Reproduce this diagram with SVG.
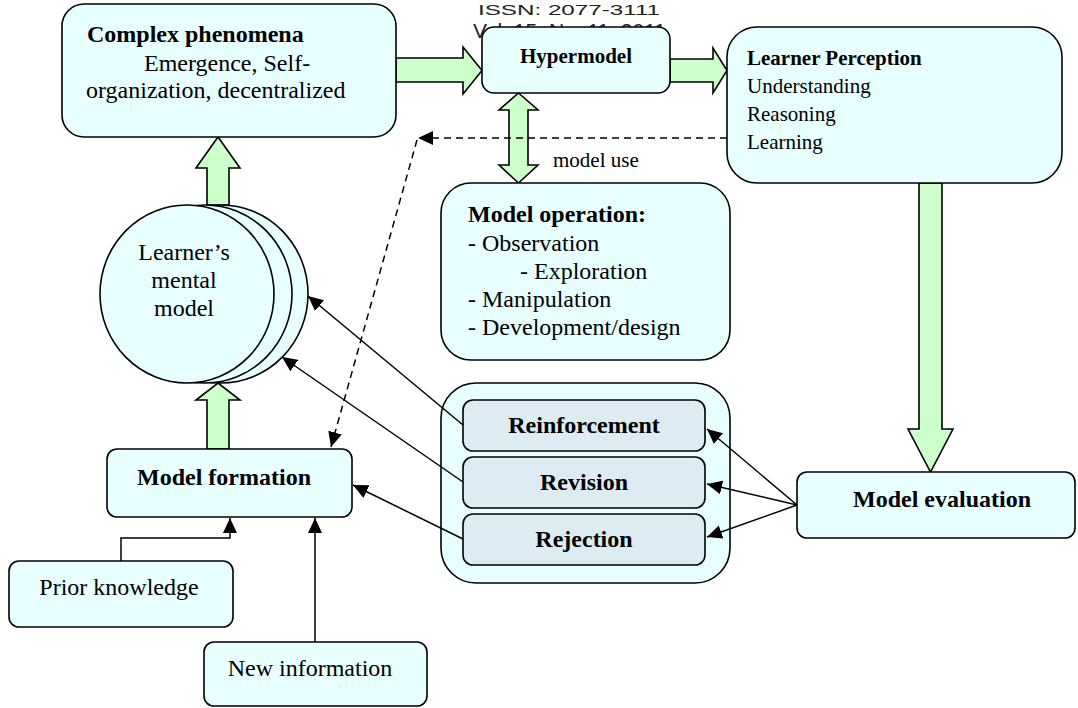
<svg xmlns="http://www.w3.org/2000/svg" width="1078" height="708" viewBox="0 0 1078 708">
<style>
.box{fill:#E8FFFF;stroke:#000;stroke-width:1.6}
.inner{fill:#DCECF2;stroke:#000;stroke-width:1.6}
.blk{fill:#CCFFCC;stroke:#000;stroke-width:1.6;stroke-linejoin:miter}
.t{font-family:"Liberation Serif","Times New Roman",serif;fill:#000}
.b{font-weight:bold}
.s24{font-size:24px}
.s21{font-size:21px}
.hdr{font-family:"Liberation Sans",Arial,sans-serif;font-size:21px;fill:#222}
.ln{stroke:#000;stroke-width:1.5;fill:none}
.dash{stroke:#000;stroke-width:1.5;fill:none;stroke-dasharray:7,5}
</style>
<defs>
<marker id="ah" markerUnits="userSpaceOnUse" markerWidth="16" markerHeight="14" refX="15" refY="7" orient="auto">
<path d="M0,0 L15,7 L0,14 Z" fill="#000"/>
</marker>
</defs>
<rect width="1078" height="708" fill="#fff"/>
<text class="hdr" x="478" y="15" style="font-size:15px" textLength="182" lengthAdjust="spacingAndGlyphs">ISSN: 2077-3111</text>
<text class="hdr" x="473" y="38">Vol. 15, No. 11, 2011</text>

<g id="block-arrows">
<polygon class="blk" points="396,58 463,58 463,47 482,70.5 463,94 463,82 396,82"/>
<polygon class="blk" points="670,59 713,59 713,48 727,70.5 713,93 713,82 670,82"/>
<polygon class="blk" points="518.5,93 538,110 528,110 528,165 538,165 518.5,183 499,165 509,165 509,110 499,110"/>
<polygon class="blk" points="919,183 942,183 942,429 953,429 930.5,472 908,429 919,429"/>
<polygon class="blk" points="207,205 207,168 196,168 218,137 240,168 229,168 229,205"/>
<polygon class="blk" points="207,449 207,400 196,400 218,383 240,400 229,400 229,449"/>
</g>

<g id="complex-phenomena">
<rect class="box" x="62" y="4" width="334" height="133" rx="22"/>
<text class="t s24 b" x="87" y="42">Complex phenomena</text>
<text class="t s24" x="144" y="71">Emergence, Self-</text>
<text class="t s24" x="86" y="98">organization, decentralized</text>
</g>

<g id="hypermodel">
<rect class="box" x="482" y="27" width="188" height="66" rx="12"/>
<text class="t s21 b" x="576" y="63" text-anchor="middle">Hypermodel</text>
</g>

<g id="learner-perception">
<rect class="box" x="727" y="27" width="335" height="156" rx="30"/>
<text class="t s21 b" x="747" y="65">Learner Perception</text>
<text class="t s21" x="747" y="93">Understanding</text>
<text class="t s21" x="747" y="121">Reasoning</text>
<text class="t s21" x="747" y="149">Learning</text>
</g>

<g id="model-use-label">
<text class="t s21" x="553" y="167">model use</text>
</g>

<g id="model-operation">
<rect class="box" x="441" y="183" width="289" height="177" rx="30"/>
<text class="t s24 b" x="468" y="222">Model operation:</text>
<text class="t s24" x="468" y="251">- Observation</text>
<text class="t s24" x="520" y="279">- Exploration</text>
<text class="t s24" x="468" y="307">- Manipulation</text>
<text class="t s24" x="468" y="335">- Development/design</text>
</g>

<g id="mental-model">
<ellipse class="box" cx="221" cy="294" rx="87" ry="89"/>
<ellipse class="box" cx="205" cy="294" rx="87" ry="89"/>
<ellipse class="box" cx="187" cy="294" rx="87" ry="89"/>
<text class="t s24" x="184" y="260" text-anchor="middle">Learner’s</text>
<text class="t s24" x="184" y="288" text-anchor="middle">mental</text>
<text class="t s24" x="184" y="316" text-anchor="middle">model</text>
</g>

<g id="feedback-group">
<rect class="box" x="441" y="383" width="289" height="200" rx="35"/>
</g>
<g id="reinforcement">
<rect class="inner" x="463" y="400" width="242" height="51" rx="10"/>
<text class="t s24 b" x="584" y="433" text-anchor="middle">Reinforcement</text>
</g>
<g id="revision">
<rect class="inner" x="463" y="457" width="242" height="51" rx="10"/>
<text class="t s24 b" x="584" y="490" text-anchor="middle">Revision</text>
</g>
<g id="rejection">
<rect class="inner" x="463" y="514" width="242" height="51" rx="10"/>
<text class="t s24 b" x="584" y="547" text-anchor="middle">Rejection</text>
</g>

<g id="model-evaluation">
<rect class="box" x="797" y="472" width="278" height="66" rx="10"/>
<text class="t s24 b" x="942" y="507" text-anchor="middle">Model evaluation</text>
</g>

<g id="model-formation">
<rect class="box" x="107" y="449" width="245" height="68" rx="10"/>
<text class="t s24 b" x="224" y="485" text-anchor="middle">Model formation</text>
</g>

<g id="prior-knowledge">
<rect class="box" x="9" y="561" width="224" height="66" rx="10"/>
<text class="t s24" x="119" y="595" text-anchor="middle">Prior knowledge</text>
</g>

<g id="new-information">
<rect class="box" x="204" y="642" width="223" height="64" rx="10"/>
<text class="t s24" x="310" y="676" text-anchor="middle">New information</text>
</g>

<g id="connectors">
<line class="dash" x1="727" y1="138" x2="418" y2="138" marker-end="url(#ah)"/>
<line class="dash" x1="417" y1="140" x2="331" y2="447" marker-end="url(#ah)"/>
<line class="ln" x1="463" y1="425" x2="308" y2="296" marker-end="url(#ah)"/>
<line class="ln" x1="463" y1="482" x2="282" y2="357" marker-end="url(#ah)"/>
<line class="ln" x1="463" y1="539" x2="353" y2="485" marker-end="url(#ah)"/>
<line class="ln" x1="797" y1="505" x2="707" y2="429" marker-end="url(#ah)"/>
<line class="ln" x1="797" y1="505" x2="707" y2="484" marker-end="url(#ah)"/>
<line class="ln" x1="797" y1="505" x2="707" y2="537" marker-end="url(#ah)"/>
<polyline class="ln" points="121,561 121,538 230,538 230,518" marker-end="url(#ah)"/>
<line class="ln" x1="315" y1="642" x2="315" y2="518" marker-end="url(#ah)"/>
</g>
</svg>
